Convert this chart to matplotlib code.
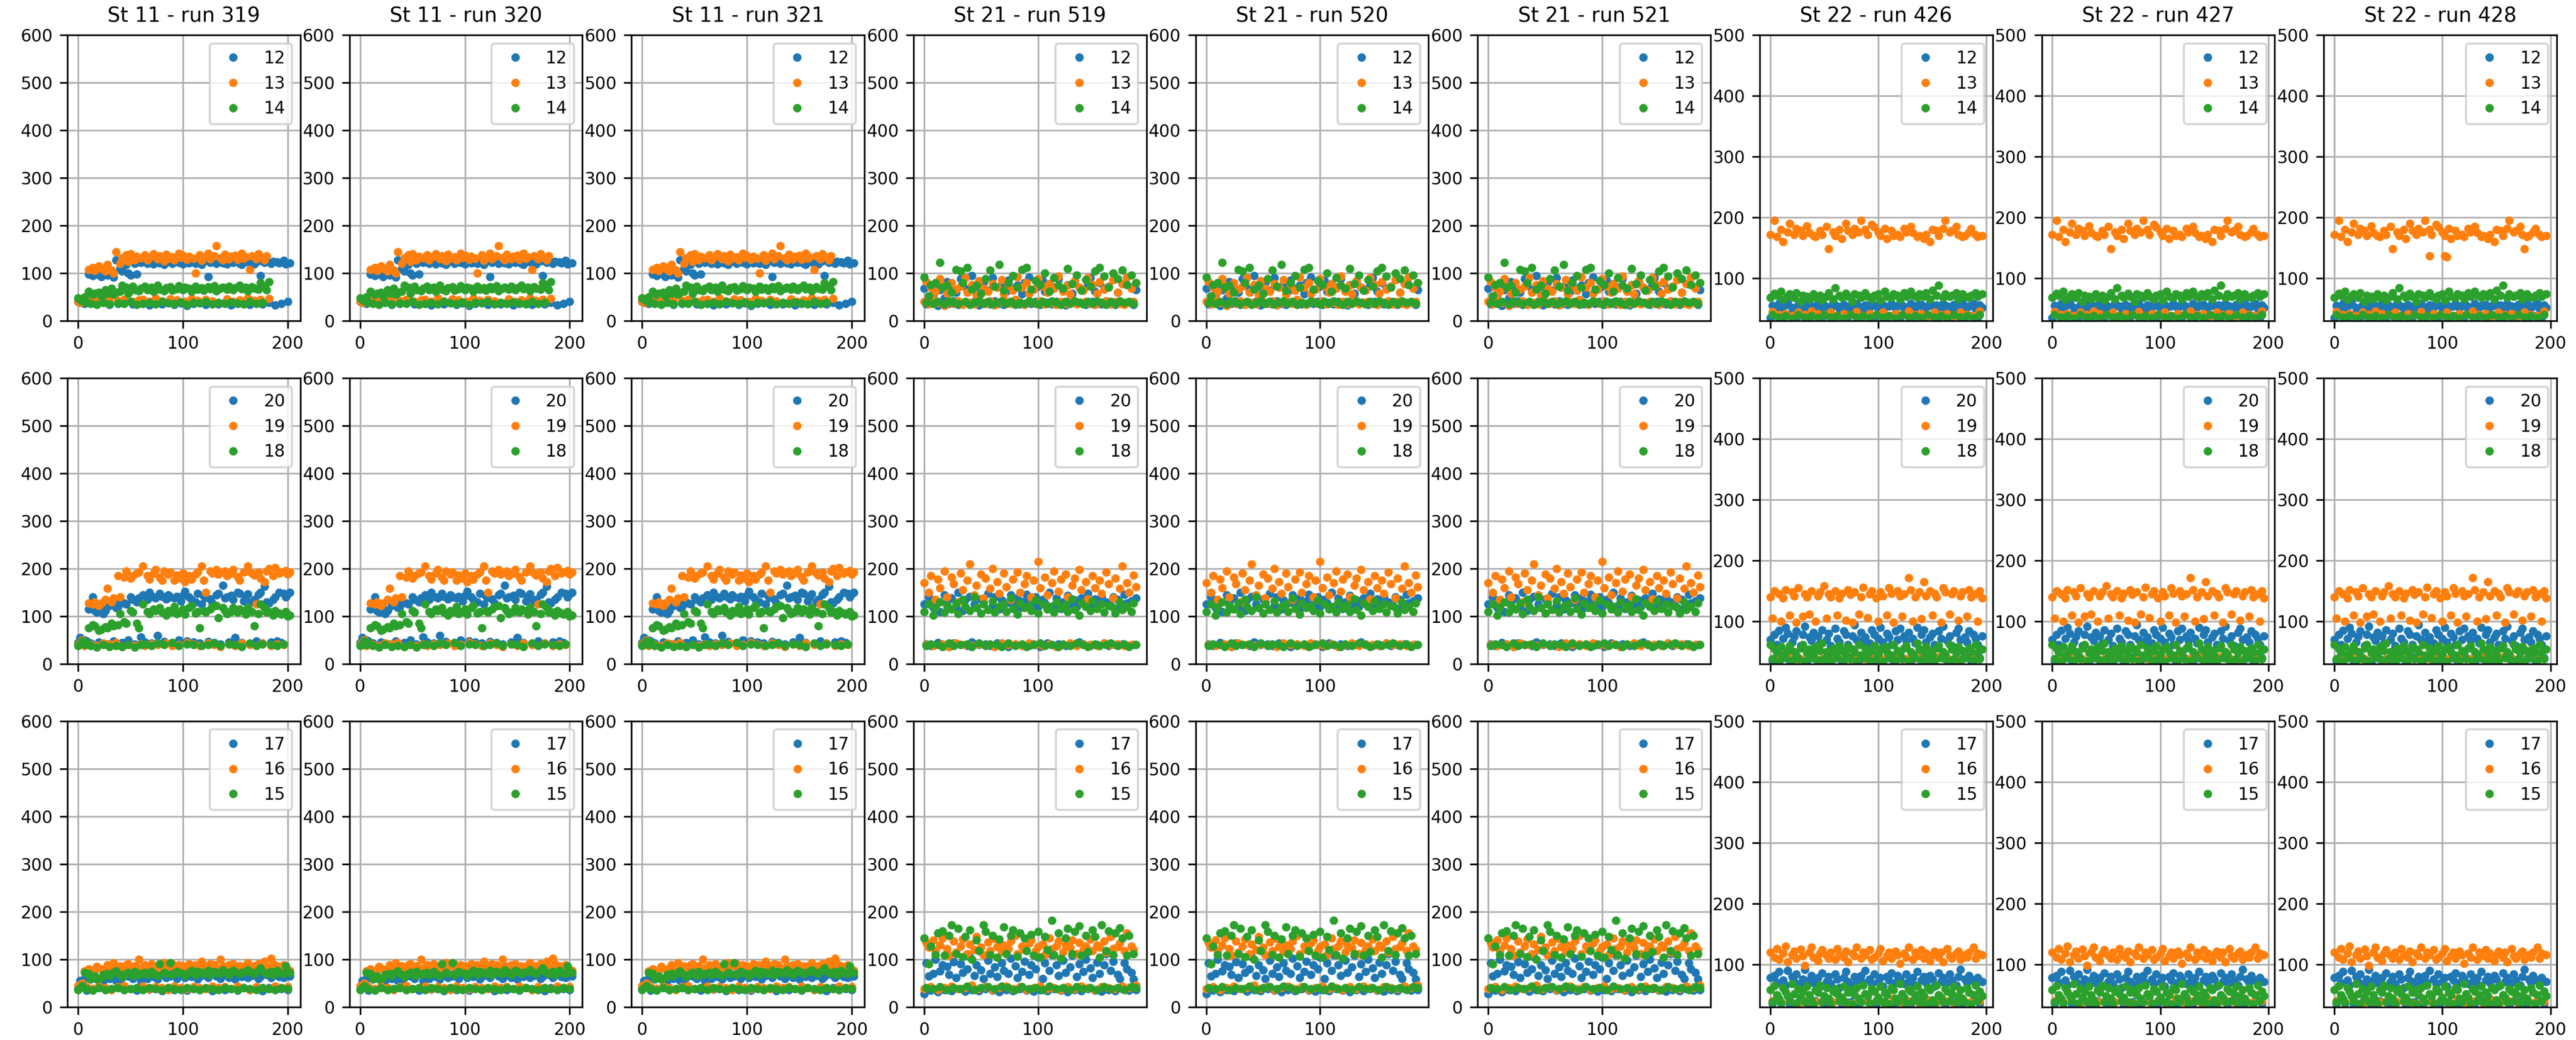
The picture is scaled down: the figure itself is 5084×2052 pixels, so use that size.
import numpy as np
import matplotlib
matplotlib.use("Agg")
import matplotlib.pyplot as plt

plt.rcParams['font.size'] = 8

# values, one sample every 2 events.
# the three runs of one station look alike, so they share the arrays.

# ---- St 11 (runs 319, 320, 321) ----
st11_12 = [40, 38, 42, 36, 39,
           98, 37, 95, 100, 35, 97, 93, 38, 102, 96, 34, 99, 92,
           128, 36, 110, 104, 38, 118, 100, 96, 35, 120, 98, 37,
           122, 36, 125, 120, 33, 124, 119, 38, 126, 121, 35, 118, 123, 40, 127, 120, 34, 125, 122, 37,
           119, 124, 32, 121, 126, 36, 120, 123, 39, 118, 125, 34, 93, 122, 37, 124, 120, 35, 127, 121,
           38, 119, 124, 33, 122, 126, 36, 120, 118, 39, 125, 123, 34, 121, 119, 37, 126, 95, 35, 122,
           124, 38, 120, 125, 33, 123, 121, 36, 127, 119, 40, 121]
st11_13 = [42, 38, 45, 40, 50,
           108, 44, 112, 105, 40, 115, 110, 46, 104, 118, 42, 106, 100,
           145, 43, 120, 132, 45, 138, 125, 140, 41, 128, 135, 44,
           132, 45, 138, 128, 40, 135, 140, 48, 130, 136, 42, 126, 139, 131, 46, 134, 128, 44, 141, 133,
           137, 40, 129, 135, 47, 131, 100, 43, 138, 127, 134, 45, 141, 130, 42, 136, 157, 38, 132, 128,
           139, 46, 130, 135, 41, 137, 129, 44, 142, 131, 134, 48, 107, 136, 43, 130, 140, 45, 133, 128,
           136, 47]
st11_14 = [48, 45, 42, 50, 38,
           62, 36, 55, 58, 34, 60, 52, 38, 65, 57, 35, 68, 55,
           60, 37, 62, 75, 36, 70, 58, 40, 72, 65, 34, 63,
           68, 36, 72, 65, 38, 70, 62, 35, 74, 66, 40, 63, 69, 37, 71, 64, 36, 67, 73, 39,
           65, 70, 34, 68, 62, 38, 72, 66, 37, 69, 64, 41, 71, 67, 35, 73, 63, 38, 68, 70,
           36, 66, 72, 39, 65, 69, 37, 74, 67, 35, 70, 63, 40, 71, 68, 36, 66, 80, 38, 72,
           65, 82]

st11_20 = [45, 55, 42, 50, 48,
           115, 44, 140, 112, 108, 46, 118, 105, 112, 42, 122, 125, 48, 118, 120,
           130, 45, 128, 125, 50, 140, 135, 42, 130, 138, 56,
           145, 46, 135, 150, 44, 140, 138, 60, 148, 142, 47, 136, 145, 140, 45, 138, 142, 50, 132, 144,
           152, 48, 140, 135, 46, 130, 148, 44, 125, 143, 139, 47, 136, 128, 45, 145, 148, 42, 165, 138,
           140, 46, 144, 135, 55, 150, 148, 45, 132, 140, 147, 43, 130, 135, 48, 146, 150, 44, 163, 130,
           128, 46, 135, 140, 48, 150, 45, 148, 140, 147, 150]
st11_19 = [40, 45, 50, 38, 42,
           128, 40, 125, 130, 38, 122, 128, 44, 135, 158, 42, 130, 138, 45, 185,
           140, 36, 182, 195, 40, 180, 185, 38, 190, 192, 42,
           205, 38, 185, 178, 42, 190, 198, 40, 182, 176, 195, 44, 188, 192, 38, 175, 186, 40, 180, 190,
           172, 45, 185, 178, 42, 188, 192, 38, 205, 176, 150, 44, 195, 190, 40, 198, 188, 36, 192, 195,
           185, 42, 190, 198, 38, 183, 176, 44, 192, 195, 205, 40, 190, 186, 125, 192, 180, 44, 172, 195,
           200, 38, 185, 202, 42, 190, 193, 40, 196, 188, 192]
st11_18 = [38, 42, 48, 40, 45,
           75, 38, 82, 80, 35, 70, 72, 40, 78, 75, 36, 85, 80, 38, 82,
           105, 36, 88, 85, 40, 112, 108, 35, 85, 75, 40,
           125, 42, 110, 105, 38, 115, 112, 44, 118, 108, 40, 102, 112, 108, 45, 120, 105, 38, 110, 115,
           104, 42, 118, 122, 40, 106, 110, 75, 38, 112, 108, 40, 115, 120, 44, 122, 97, 38, 118, 112,
           105, 42, 110, 118, 40, 108, 115, 36, 112, 104, 118, 44, 110, 80, 38, 105, 125, 42, 118, 108,
           110, 40, 102, 112, 38, 106, 104, 42, 110, 100, 102]

st11_17 = [38, 55, 42, 60, 35, 70, 58, 38, 65, 82, 40, 62, 55, 36, 68, 60, 38, 65, 55, 40,
           58, 62, 36, 70, 65, 38, 60, 68, 35, 72, 55, 40, 66, 60, 37, 70, 64, 38, 58, 68,
           34, 72, 62, 40, 65, 70, 36, 60, 66, 38, 74, 62, 35, 68, 64, 40, 70, 58, 36, 66,
           72, 38, 62, 68, 34, 70, 65, 40, 60, 72, 36, 66, 62, 38, 70, 58, 35, 68, 64, 40,
           72, 62, 36, 66, 70, 38, 60, 64, 34, 72, 68, 40, 62, 66, 36, 70, 64, 38, 62, 68,
           36, 65]
st11_16 = [45, 40, 50, 75, 42, 80, 72, 38, 78, 85, 44, 80, 76, 40, 88, 82, 36, 92, 84, 42,
           86, 80, 45, 88, 90, 38, 84, 86, 40, 100, 82, 44, 88, 84, 38, 90, 86, 42, 82, 88,
           40, 92, 85, 36, 86, 90, 44, 84, 88, 40, 86, 82, 38, 90, 86, 42, 88, 84, 40, 96,
           86, 38, 84, 90, 44, 88, 82, 40, 100, 86, 42, 84, 88, 38, 90, 84, 44, 86, 82, 40,
           88, 92, 36, 84, 86, 42, 90, 88, 40, 96, 84, 38, 102, 90, 44, 86, 82, 40, 88, 78,
           42, 76]
st11_15 = [36, 40, 45, 72, 38, 70, 60, 35, 65, 58, 40, 62, 68, 36, 70, 66, 38, 72, 75, 40,
           68, 64, 36, 70, 72, 38, 66, 74, 40, 68, 70, 36, 72, 68, 40, 74, 70, 38, 66, 90,
           36, 72, 70, 40, 92, 68, 38, 74, 72, 36, 70, 66, 40, 72, 76, 38, 68, 74, 36, 72,
           70, 40, 76, 68, 38, 74, 72, 36, 70, 78, 40, 72, 68, 38, 76, 74, 36, 70, 72, 40,
           74, 78, 38, 72, 70, 36, 76, 82, 40, 72, 70, 38, 74, 68, 36, 76, 72, 40, 70, 86,
           38, 72]

# ---- St 21 (runs 519, 520, 521) ----
st21_12 = [68, 35, 72, 40, 55, 78, 32, 65, 38, 48, 82, 36, 70, 42, 60, 34, 88, 75, 38, 66,
           36, 95, 40, 72, 33, 58, 80, 38, 64, 35, 90, 42, 70, 36, 76, 34, 62, 85, 38, 68,
           40, 74, 35, 56, 80, 37, 92, 36, 66, 40, 72, 34, 84, 62, 38, 78, 35, 70, 40, 88,
           36, 64, 33, 76, 42, 58, 82, 36, 70, 38, 66, 34, 74, 90, 40, 62, 36, 80, 35, 68,
           42, 72, 38, 86, 34, 60, 40, 78, 36, 92, 38, 70, 34, 65]
st21_13 = [40, 82, 35, 70, 45, 62, 38, 88, 75, 32, 58, 40, 80, 36, 66, 42, 72, 34, 90, 60,
           38, 76, 35, 54, 84, 40, 68, 36, 62, 42, 78, 33, 70, 38, 86, 56, 40, 74, 36, 64,
           45, 92, 38, 70, 34, 80, 58, 40, 66, 36, 88, 42, 72, 35, 60, 78, 38, 68, 34, 94,
           40, 62, 36, 74, 56, 42, 84, 35, 70, 38, 64, 40, 90, 36, 76, 34, 58, 82, 38, 66,
           42, 72, 35, 86, 40, 60, 36, 78, 34, 92, 38, 68, 40, 80]
st21_14 = [92, 38, 52, 76, 36, 80, 40, 122, 70, 35, 75, 42, 60, 38, 108, 36, 104, 80, 40, 112,
           34, 66, 38, 74, 42, 58, 36, 88, 40, 106, 35, 72, 38, 118, 42, 64, 36, 80, 40, 95,
           34, 70, 38, 108, 36, 112, 42, 66, 38, 84, 35, 76, 40, 100, 36, 62, 42, 90, 38, 74,
           34, 68, 40, 110, 36, 78, 42, 96, 38, 64, 35, 86, 40, 72, 36, 104, 42, 112, 38, 94,
           34, 70, 40, 100, 36, 88, 42, 106, 38, 76, 40, 96, 36, 80]

st21_20 = [125, 42, 140, 38, 118, 132, 45, 110, 40, 145, 128, 36, 138, 44, 120, 150, 40, 112, 135, 38,
           142, 46, 126, 118, 40, 136, 130, 42, 148, 38, 122, 140, 44, 115, 134, 40, 128, 36, 145, 124,
           42, 138, 118, 40, 132, 146, 38, 126, 42, 140, 120, 36, 135, 128, 44, 150, 40, 122, 138, 42,
           116, 130, 38, 144, 126, 40, 134, 120, 46, 138, 42, 128, 148, 38, 118, 136, 40, 126, 142, 44,
           130, 38, 122, 140, 40, 135, 118, 42, 146, 128, 38, 132, 40, 138]
st21_19 = [170, 40, 150, 185, 38, 135, 178, 160, 42, 195, 140, 36, 182, 168, 44, 130, 190, 155, 40, 175,
           210, 38, 145, 165, 42, 188, 138, 180, 40, 158, 200, 36, 172, 148, 44, 190, 162, 40, 135, 178,
           42, 192, 150, 38, 168, 185, 44, 140, 175, 40, 215, 160, 38, 182, 145, 42, 170, 195, 36, 152,
           178, 40, 188, 140, 44, 165, 180, 38, 198, 155, 42, 172, 136, 40, 185, 160, 38, 175, 148, 44,
           192, 168, 40, 138, 180, 42, 158, 205, 38, 170, 150, 40, 186, 162]
st21_18 = [110, 38, 125, 42, 102, 118, 40, 130, 36, 108, 122, 44, 115, 38, 128, 105, 40, 135, 120, 42,
           112, 36, 140, 118, 44, 106, 126, 38, 114, 42, 132, 108, 40, 120, 36, 125, 110, 44, 138, 116,
           38, 104, 128, 42, 118, 36, 122, 112, 40, 134, 106, 44, 126, 38, 115, 120, 40, 108, 130, 36,
           118, 42, 124, 110, 38, 136, 114, 44, 102, 128, 40, 120, 36, 112, 132, 42, 116, 38, 126, 108,
           40, 122, 44, 118, 106, 38, 130, 114, 42, 120, 36, 110, 128, 40]

st21_17 = [28, 92, 65, 35, 70, 100, 32, 75, 88, 36, 85, 68, 34, 95, 62, 38, 90, 72, 33, 80,
           105, 36, 66, 88, 34, 78, 60, 38, 98, 70, 35, 84, 64, 32, 92, 76, 36, 70, 102, 34,
           86, 62, 38, 74, 96, 35, 68, 88, 33, 80, 104, 36, 60, 92, 34, 76, 110, 38, 88, 66,
           35, 98, 72, 32, 84, 108, 36, 64, 90, 34, 74, 100, 38, 82, 62, 35, 94, 70, 33, 88,
           112, 36, 76, 96, 34, 68, 60, 38, 92, 80, 35, 72, 58, 36]
st21_16 = [38, 135, 125, 42, 140, 118, 36, 130, 145, 40, 122, 108, 44, 138, 115, 38, 128, 142, 40, 112,
           132, 46, 120, 148, 38, 125, 110, 42, 136, 118, 36, 144, 126, 40, 116, 130, 44, 122, 138, 38,
           150, 112, 42, 128, 120, 36, 134, 140, 40, 118, 126, 44, 132, 110, 38, 145, 122, 40, 128, 138,
           36, 115, 130, 42, 124, 140, 38, 112, 135, 44, 120, 128, 40, 142, 118, 36, 130, 125, 42, 138,
           115, 40, 148, 122, 38, 126, 134, 44, 118, 155, 40, 128, 120, 46]
st21_15 = [145, 40, 90, 128, 38, 110, 155, 42, 160, 108, 36, 150, 172, 40, 112, 165, 38, 105, 148, 44,
           162, 100, 36, 140, 118, 40, 172, 158, 42, 110, 150, 38, 104, 142, 44, 168, 112, 40, 150, 162,
           36, 106, 155, 42, 145, 118, 38, 152, 108, 40, 158, 104, 36, 148, 120, 44, 182, 110, 38, 155,
           102, 40, 145, 165, 36, 112, 158, 42, 170, 108, 38, 150, 116, 40, 162, 148, 36, 104, 172, 42,
           118, 160, 38, 110, 155, 40, 166, 145, 36, 108, 150, 42, 112, 40]

# ---- St 22 (runs 426, 427, 428) ----
st22_12 = [35, 55, 52, 38, 58, 50, 34, 56, 60, 40, 52, 48, 36, 57, 54, 38, 50, 59, 34, 55,
           52, 40, 58, 48, 36, 56, 53, 38, 51, 60, 35, 54, 50, 38, 57, 52, 36, 55, 49, 40,
           58, 53, 35, 50, 56, 38, 52, 60, 34, 55, 50, 39, 57, 52, 36, 54, 58, 38, 51, 55,
           35, 56, 50, 40, 53, 58, 36, 52, 55, 38, 57, 50, 34, 54, 60, 38, 52, 56, 36, 50,
           58, 40, 54, 52, 35, 57, 50, 38, 55, 60, 36, 52, 54, 38, 58, 50, 35, 56, 52]
st22_13 = [172, 45, 195, 168, 40, 180, 160, 42, 176, 190, 38, 172, 182, 44, 178, 170, 40, 186, 175, 46,
           170, 168, 42, 178, 172, 40, 185, 148, 44, 176, 170, 38, 180, 165, 42, 190, 178, 40, 172, 182,
           45, 176, 195, 38, 180, 172, 42, 188, 184, 40, 176, 170, 44, 182, 165, 38, 178, 170, 42, 172,
           168, 40, 182, 176, 46, 185, 175, 40, 168, 170, 42, 165, 172, 38, 160, 180, 44, 178, 170, 40,
           182, 195, 42, 176, 178, 38, 185, 172, 44, 168, 170, 40, 176, 182, 38, 172, 168, 46, 170]
st22_14 = [68, 40, 75, 72, 36, 78, 65, 38, 70, 74, 34, 68, 76, 40, 62, 72, 36, 70, 66, 38,
           74, 68, 35, 72, 64, 40, 70, 76, 36, 66, 84, 38, 72, 68, 34, 75, 70, 40, 62, 74,
           36, 72, 68, 38, 76, 70, 35, 66, 72, 40, 74, 64, 36, 78, 70, 38, 68, 74, 34, 72,
           66, 40, 76, 70, 36, 78, 72, 38, 68, 74, 35, 70, 76, 40, 66, 80, 36, 72, 88, 38,
           68, 74, 34, 70, 72, 40, 76, 66, 36, 74, 70, 38, 68, 72, 35, 76, 70, 40, 74]

st22_20 = [70, 35, 78, 62, 85, 38, 72, 90, 80, 36, 66, 75, 84, 40, 60, 78, 92, 34, 74, 68,
           82, 38, 76, 64, 86, 36, 70, 80, 60, 38, 88, 72, 66, 35, 84, 78, 62, 40, 76, 94,
           70, 36, 82, 68, 74, 38, 64, 86, 78, 35, 72, 90, 66, 38, 80, 74, 62, 36, 84, 70,
           88, 40, 76, 68, 82, 34, 72, 64, 90, 38, 78, 86, 66, 36, 74, 80, 62, 40, 84, 72,
           92, 38, 68, 76, 60, 35, 82, 88, 70, 38, 74, 66, 84, 36, 78, 72, 62, 40, 76]
st22_19 = [140, 105, 150, 40, 145, 100, 138, 152, 42, 110, 148, 142, 98, 155, 38, 108, 145, 140, 112, 150,
           44, 100, 142, 148, 38, 158, 105, 145, 140, 42, 150, 110, 138, 146, 40, 102, 152, 144, 98, 148,
           45, 112, 140, 156, 38, 106, 145, 150, 42, 138, 100, 148, 142, 38, 110, 155, 146, 98, 40, 150,
           142, 108, 145, 38, 172, 152, 100, 140, 44, 148, 104, 165, 142, 38, 150, 110, 146, 140, 42, 98,
           155, 148, 40, 112, 145, 150, 38, 102, 142, 148, 44, 108, 152, 140, 38, 145, 100, 150, 138]
st22_18 = [62, 38, 55, 48, 34, 58, 45, 40, 52, 60, 36, 50, 44, 38, 56, 62, 35, 48, 54, 40,
           46, 58, 36, 52, 64, 38, 50, 44, 34, 56, 48, 40, 60, 52, 36, 46, 58, 38, 54, 50,
           35, 62, 44, 40, 56, 48, 36, 52, 60, 38, 46, 54, 34, 58, 50, 40, 44, 62, 36, 52,
           48, 38, 56, 60, 35, 50, 46, 40, 64, 54, 36, 48, 58, 38, 52, 44, 34, 56, 60, 40,
           50, 46, 36, 62, 54, 38, 48, 58, 35, 52, 44, 40, 56, 50, 36, 62, 48, 38, 54]

st22_17 = [78, 36, 82, 70, 88, 38, 74, 66, 90, 35, 80, 72, 84, 38, 68, 76, 92, 36, 74, 82,
           70, 40, 78, 64, 86, 36, 72, 80, 68, 38, 84, 76, 62, 35, 78, 88, 72, 38, 66, 80,
           74, 36, 82, 70, 90, 40, 76, 68, 84, 36, 72, 78, 64, 38, 80, 74, 86, 35, 70, 82,
           76, 38, 68, 84, 72, 36, 78, 66, 88, 40, 74, 80, 70, 36, 82, 76, 64, 38, 86, 72,
           78, 35, 70, 84, 74, 38, 66, 80, 92, 36, 76, 70, 82, 38, 74, 68, 78, 36, 72]
st22_16 = [120, 40, 112, 126, 108, 38, 118, 130, 104, 42, 116, 122, 110, 36, 125, 114, 98, 40, 120, 128,
           112, 38, 106, 118, 124, 44, 115, 110, 120, 38, 108, 126, 116, 40, 112, 122, 104, 36, 118, 114,
           128, 42, 110, 120, 116, 38, 124, 108, 112, 40, 118, 126, 106, 36, 114, 120, 110, 44, 122, 116,
           102, 38, 118, 112, 128, 40, 108, 120, 114, 36, 124, 110, 118, 42, 106, 116, 122, 38, 112, 120,
           104, 40, 126, 114, 110, 36, 118, 122, 108, 44, 116, 112, 120, 38, 128, 110, 118, 40, 116]
st22_15 = [58, 38, 65, 50, 44, 36, 62, 55, 48, 40, 68, 52, 36, 60, 46, 56, 38, 64, 50, 42,
           35, 58, 54, 66, 38, 48, 62, 44, 36, 56, 60, 52, 40, 46, 64, 38, 54, 58, 35, 50,
           62, 44, 38, 66, 52, 48, 36, 60, 56, 40, 46, 64, 38, 54, 50, 35, 62, 58, 44, 38,
           68, 52, 46, 36, 60, 56, 40, 50, 64, 38, 54, 48, 35, 62, 58, 42, 36, 66, 50, 46,
           38, 60, 56, 40, 52, 64, 36, 48, 58, 44, 38, 62, 54, 35, 50, 66, 40, 56, 48]

# run 428 has a few low orange points in the first row
run428_13_x = [88, 102, 104, 176]
run428_13_y = [137, 137, 135, 148]

stations = ["St 11", "St 21", "St 22"]
runs = {"St 11": [319, 320, 321], "St 21": [519, 520, 521], "St 22": [426, 427, 428]}
row_labels = [["12", "13", "14"], ["20", "19", "18"], ["17", "16", "15"]]
data = {
    "St 11": [[st11_12, st11_13, st11_14], [st11_20, st11_19, st11_18], [st11_17, st11_16, st11_15]],
    "St 21": [[st21_12, st21_13, st21_14], [st21_20, st21_19, st21_18], [st21_17, st21_16, st21_15]],
    "St 22": [[st22_12, st22_13, st22_14], [st22_20, st22_19, st22_18], [st22_17, st22_16, st22_15]],
}
ylims = {"St 11": (0, 600), "St 21": (0, 600), "St 22": (30, 500)}

fig, axes = plt.subplots(3, 9, figsize=(5084 / 300, 2052 / 300), dpi=300)
plt.subplots_adjust(left=0.0262, right=0.9925, top=0.9664, bottom=0.0317,
                    wspace=0.211, hspace=0.2)

col = 0
for st in stations:
    for run in runs[st]:
        for row in range(3):
            ax = axes[row, col]
            for k in range(3):
                y = data[st][row][k]
                x = np.arange(len(y)) * 2
                line, = ax.plot(x, y, '.', label=row_labels[row][k])
                if run == 428 and row == 0 and k == 1:
                    ax.plot(run428_13_x, run428_13_y, '.', color=line.get_color())
            ax.set_ylim(*ylims[st])
            ax.grid(True)
            ax.legend(loc='upper right')
            if row == 0:
                ax.set_title(f"{st} - run {run}")
        col += 1

fig.savefig("out.png", dpi=300)
